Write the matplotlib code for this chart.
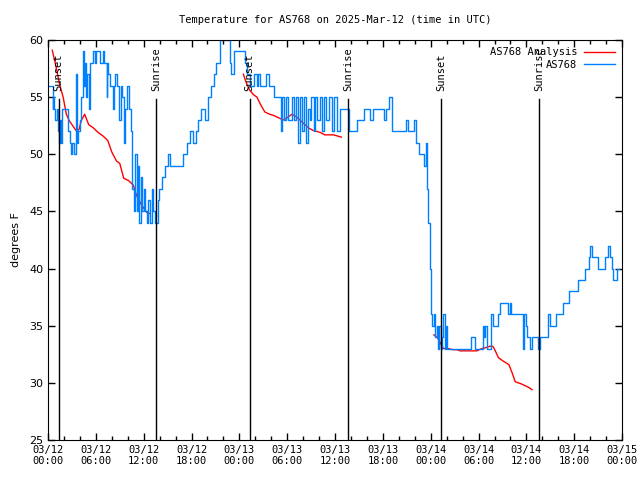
import numpy as np
import matplotlib
matplotlib.use("Agg")
import matplotlib.pyplot as plt
from matplotlib.ticker import MultipleLocator

# hours since 2025-03-12 00:00 UTC, temperature in F
obs_hours = [0.0, 0.58, 0.65, 0.73, 0.9, 1.1, 1.3, 1.4, 1.5, 1.6, 1.7,
             2.55, 2.7, 2.85, 3.0, 3.2, 3.45, 3.6, 3.8, 4.0, 4.2, 4.4, 4.5,
             4.65, 4.8, 4.95, 5.1, 5.3, 5.7, 5.9, 6.0, 6.3, 6.5, 6.9, 7.05,
             7.35, 7.45, 7.55, 7.8, 8.1, 8.3, 8.45, 8.7, 8.95, 9.1, 9.3, 9.55,
             9.65, 9.85, 10.1, 10.35, 10.55, 10.75, 10.9, 11.1, 11.3, 11.45,
             11.65, 11.85, 12.0, 12.2, 12.4, 12.6, 12.8, 13.0, 13.2, 13.4,
             13.6, 13.75, 13.95, 14.3, 14.7, 15.0, 15.3, 16.9, 17.4, 17.8,
             18.2, 18.5, 18.8, 19.2, 19.7, 20.1, 20.5, 20.8, 21.1, 21.6, 22.8,
             23.0, 23.3, 24.7, 24.9, 25.3, 25.8, 26.2, 26.4, 26.6, 27.4, 27.7,
             28.3, 29.2, 29.35, 29.6, 29.9, 30.1, 30.6, 30.8, 31.1, 31.4,
             31.6, 31.9, 32.1, 32.4, 32.6, 32.8, 33.0, 33.3, 33.5, 33.8, 34.1,
             34.4, 34.6, 34.9, 35.3, 35.6, 35.9, 36.2, 36.6, 37.7, 38.7, 39.6,
             40.4, 40.8, 42.2, 42.4, 42.8, 43.1, 44.3, 44.9, 45.15, 45.9,
             46.2, 46.55, 47.1, 47.35, 47.5, 47.7, 47.85, 48.0, 48.15, 48.35,
             48.55, 48.75, 48.9, 49.1, 49.3, 49.45, 49.6, 49.75, 49.9, 50.1,
             53.1, 53.5, 54.55, 54.7, 54.8, 55.0, 55.6, 55.8, 56.45, 56.65,
             57.75, 57.9, 58.1, 58.35, 59.6, 59.75, 59.9, 60.1, 60.4, 60.75,
             61.1, 61.4, 61.7, 62.7, 63.0, 63.7, 64.6, 65.4, 66.1, 66.5, 67.3,
             67.8, 68.0, 68.2, 69.0, 69.8, 70.2, 70.5, 70.7, 70.9, 71.4, 71.6]
obs_temps = [56, 54, 55, 54, 53, 54, 52, 51, 53, 51, 54,
             52, 51, 50, 51, 50, 57, 51, 52, 53, 55, 59, 56,
             58, 55, 57, 54, 58, 59, 58, 59, 59, 58, 59, 58,
             55, 58, 57, 56, 54, 56, 57, 56, 53, 56, 55, 51,
             54, 56, 54, 52, 47, 45, 50, 45, 49, 44,
             48, 45, 47, 45, 44, 46, 44, 47, 45, 44,
             44, 46, 47, 48, 49, 50, 49, 50, 51, 52,
             51, 52, 53, 54, 53, 55, 56, 57, 58, 60, 58,
             57, 59, 58, 57, 56, 57, 56, 57, 56, 57, 56,
             55, 52, 55, 53, 55, 53, 55, 53, 55, 51,
             55, 52, 55, 51, 54, 53, 55, 52, 55, 53, 55,
             52, 55, 53, 55, 52, 55, 52, 54, 52, 53, 54,
             53, 54, 53, 54, 55, 52, 52, 53, 52, 53,
             51, 50, 49, 51, 47, 44, 40, 36, 35, 36,
             34, 35, 33, 35, 33, 34, 36, 33, 35, 33,
             34, 33, 35, 34, 35, 33, 36, 35, 36, 37,
             36, 37, 36, 36, 33, 36, 35, 34, 33, 34,
             34, 33, 34, 36, 35, 36, 37, 38, 38, 39, 40,
             41, 42, 41, 40, 41, 42, 41, 40, 39, 40, 40]

ana_hours = [0.54, 0.9, 1.2, 1.5, 1.9, 2.3, 2.7, 3.2, 3.6, 3.9, 4.2, 4.6,
             5.1, 5.7, 6.3, 6.9, 7.5, 8.0, 8.6, 9.0, 9.5, 10.1, 10.7, 11.1,
             11.7, 12.4, 12.8, np.nan,
             24.5, 24.9, 25.3, 25.8, 26.2, 26.7, 27.2, 27.8, 28.3, 28.9, 29.5,
             30.0, 30.6, 31.1, 31.6, 32.2, 32.7, 33.2, 33.7, 34.2, 34.7, 35.3,
             35.8, 36.3, 36.8, np.nan,
             48.4, 48.9, 49.2, 49.6, 50.2, 50.8, 51.3, 51.7, 52.5, 53.3, 53.8,
             54.1, 54.4, 55.0, 55.4, 55.8, 56.1, 56.5, 57.1, 57.8, 58.2, 58.6,
             59.0, 59.4, 60.0, 60.3, 60.7]
ana_temps = [59.1, 58.0, 57.0, 56.0, 55.0, 53.5, 52.9, 52.4, 52.0, 52.2, 53.0,
             53.5, 52.6, 52.3, 51.9, 51.6, 51.2, 50.2, 49.4, 49.2, 47.9, 47.7,
             47.3, 46.4, 45.6, 44.9, 44.8, np.nan,
             57.0, 56.2, 55.6, 55.2, 55.0, 54.3, 53.7, 53.5, 53.4, 53.2, 53.0,
             53.2, 53.5, 53.3, 53.0, 52.6, 52.3, 52.1, 52.0, 51.9, 51.7, 51.7,
             51.7, 51.6, 51.5, np.nan,
             34.2, 33.9, 33.5, 33.0, 33.0, 32.9, 32.9, 32.8, 32.8, 32.8, 32.8,
             32.9, 33.0, 33.1, 33.2, 33.2, 32.8, 32.2, 31.9, 31.6, 30.9, 30.1,
             30.0, 29.9, 29.7, 29.6, 29.4]

sun_hours = [1.33, 13.6, 25.3, 37.65, 49.35, 61.6]
sun_labels = ["Sunset", "Sunrise", "Sunset", "Sunrise", "Sunset", "Sunrise"]

tick_labels = ["03/12\n00:00", "03/12\n06:00", "03/12\n12:00", "03/12\n18:00",
               "03/13\n00:00", "03/13\n06:00", "03/13\n12:00", "03/13\n18:00",
               "03/14\n00:00", "03/14\n06:00", "03/14\n12:00", "03/14\n18:00",
               "03/15\n00:00"]

mono = "DejaVu Sans Mono"

fig = plt.figure(figsize=(6.4, 4.8), dpi=100)
ax = fig.add_axes([0.075, 0.0833, 0.897, 0.8334])

ax.plot(ana_hours, ana_temps, color="#ff0000", lw=1, label="AS768 Analysis")
ax.plot(obs_hours, obs_temps, color="#0080ff", lw=1, drawstyle="steps-post",
        label="AS768")

# sunrise / sunset markers
for h, lab in zip(sun_hours, sun_labels):
    ax.plot([h, h], [25, 54.8], color="black", lw=1)
    ax.text(h, 55.5, lab, rotation=90, ha="center", va="bottom",
            fontsize=7.5, family=mono)

ax.set_xlim(0, 72)
ax.set_ylim(25, 60)
ax.set_xticks(np.arange(0, 73, 6))
ax.set_xticklabels(tick_labels, family=mono, fontsize=7.5)
ax.xaxis.set_minor_locator(MultipleLocator(2))
ax.set_yticks(np.arange(25, 61, 5))
ax.tick_params(axis="y", labelsize=8)
ax.tick_params(which="both", direction="in", top=True, right=True, width=1)
ax.tick_params(which="major", length=5)
ax.tick_params(which="minor", length=3)
ax.set_ylabel("degrees F", fontsize=8, labelpad=6)
ax.set_title("Temperature for AS768 on 2025-Mar-12 (time in UTC)",
             family=mono, fontsize=7.5, pad=12)

ax.legend(loc="upper right", markerfirst=False, frameon=False,
          prop={"family": mono, "size": 7.5}, handlelength=3.0,
          borderaxespad=0.3, labelspacing=0.25, handletextpad=0.6)

fig.savefig("out.png", dpi=100)
